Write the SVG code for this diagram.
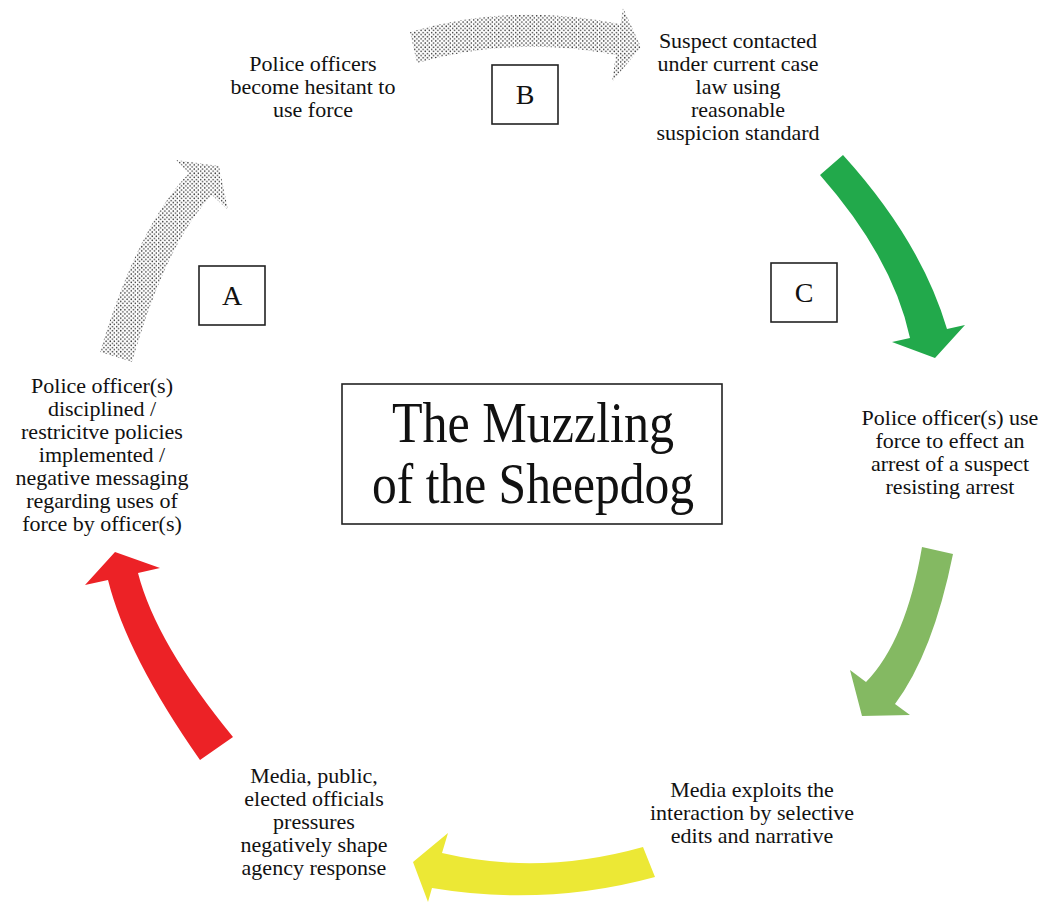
<svg xmlns="http://www.w3.org/2000/svg" width="1049" height="903" viewBox="0 0 1049 903">
<defs>
<pattern id="dots" patternUnits="userSpaceOnUse" width="4.2" height="4.2">
<circle cx="1.05" cy="1.05" r="0.75" fill="#333"/>
<circle cx="3.15" cy="3.15" r="0.75" fill="#333"/>
</pattern>
<style>
.t{font-family:"Liberation Serif","Times New Roman",serif;font-size:22px;fill:#111;text-anchor:middle}
.lbl{font-family:"Liberation Serif","Times New Roman",serif;font-size:28px;fill:#111;text-anchor:middle}
.title{font-family:"Liberation Serif","Times New Roman",serif;font-size:56px;fill:#111;text-anchor:middle}
.box{fill:#fff;stroke:#222;stroke-width:1.6}
.dot{fill:url(#dots)}
</style>
</defs>
<rect width="1049" height="903" fill="#fff"/>
<g id="connectors">
<path id="arrowA" class="dot" d="M100,352 Q137.6,226.6 189,173 L176,160 L219,166 L228,210 L212,195 Q166,243 132,362 Z"/>
<path id="arrowB" class="dot" d="M410,32 Q510,2 620.5,24 L623,8 L641,47 L612,82 L616,55 Q515,35 417,63 Z"/>
<path id="arrowC" fill="#22a94b" d="M820,175 L843,155 Q921,241 947,329 L965,325 L935,358 L892,342 L910,338 Q893,258 820,175 Z"/>
<path id="arrowD" fill="#84b962" d="M922,547 L953,554 Q933,653 895,704 L910,715 L862,716 L850,670 L866,682 Q906,641 922,547 Z"/>
<path id="arrowE" fill="#ece835" d="M643,847 L655,877 Q545,907 432,888 L428,902 L413,862 L448,833 L442,853 Q540,876 643,847 Z"/>
<path id="arrowF" fill="#ec2226" d="M200,760 L233,737 Q156,643 138,573 L160,568 L115,552 L85,585 L108,580 Q127,656 200,760 Z"/>
</g>
<g id="boxA"><rect class="box" x="199" y="266" width="66" height="59"/><text class="lbl" x="232" y="305">A</text></g>
<g id="boxB"><rect class="box" x="492" y="65" width="66" height="59"/><text class="lbl" x="525" y="104">B</text></g>
<g id="boxC"><rect class="box" x="771" y="263" width="66" height="59"/><text class="lbl" x="804" y="302">C</text></g>
<g id="title"><rect class="box" x="342" y="384" width="380" height="140"/>
<text class="title" x="533" y="442" textLength="282" lengthAdjust="spacingAndGlyphs">The Muzzling</text>
<text class="title" x="533" y="503" textLength="322" lengthAdjust="spacingAndGlyphs">of the Sheepdog</text></g>
<g id="node-hesitant"><text class="t" x="313" y="71">Police officers</text><text class="t" x="313" y="94">become hesitant to</text><text class="t" x="313" y="117">use force</text></g>
<g id="node-suspect"><text class="t" x="738" y="48">Suspect contacted</text><text class="t" x="738" y="71">under current case</text><text class="t" x="738" y="94">law using</text><text class="t" x="738" y="117">reasonable</text><text class="t" x="738" y="140">suspicion standard</text></g>
<g id="node-force"><text class="t" x="950" y="425">Police officer(s) use</text><text class="t" x="950" y="448">force to effect an</text><text class="t" x="950" y="471">arrest of a suspect</text><text class="t" x="950" y="494">resisting arrest</text></g>
<g id="node-media"><text class="t" x="752" y="797">Media exploits the</text><text class="t" x="752" y="820">interaction by selective</text><text class="t" x="752" y="843">edits and narrative</text></g>
<g id="node-pressure"><text class="t" x="314" y="783">Media, public,</text><text class="t" x="314" y="806">elected officials</text><text class="t" x="314" y="829">pressures</text><text class="t" x="314" y="852">negatively shape</text><text class="t" x="314" y="875">agency response</text></g>
<g id="node-disciplined"><text class="t" x="102" y="393">Police officer(s)</text><text class="t" x="102" y="416">disciplined /</text><text class="t" x="102" y="439">restricitve policies</text><text class="t" x="102" y="462">implemented /</text><text class="t" x="102" y="485">negative messaging</text><text class="t" x="102" y="508">regarding uses of</text><text class="t" x="102" y="531">force by officer(s)</text></g>
</svg>
